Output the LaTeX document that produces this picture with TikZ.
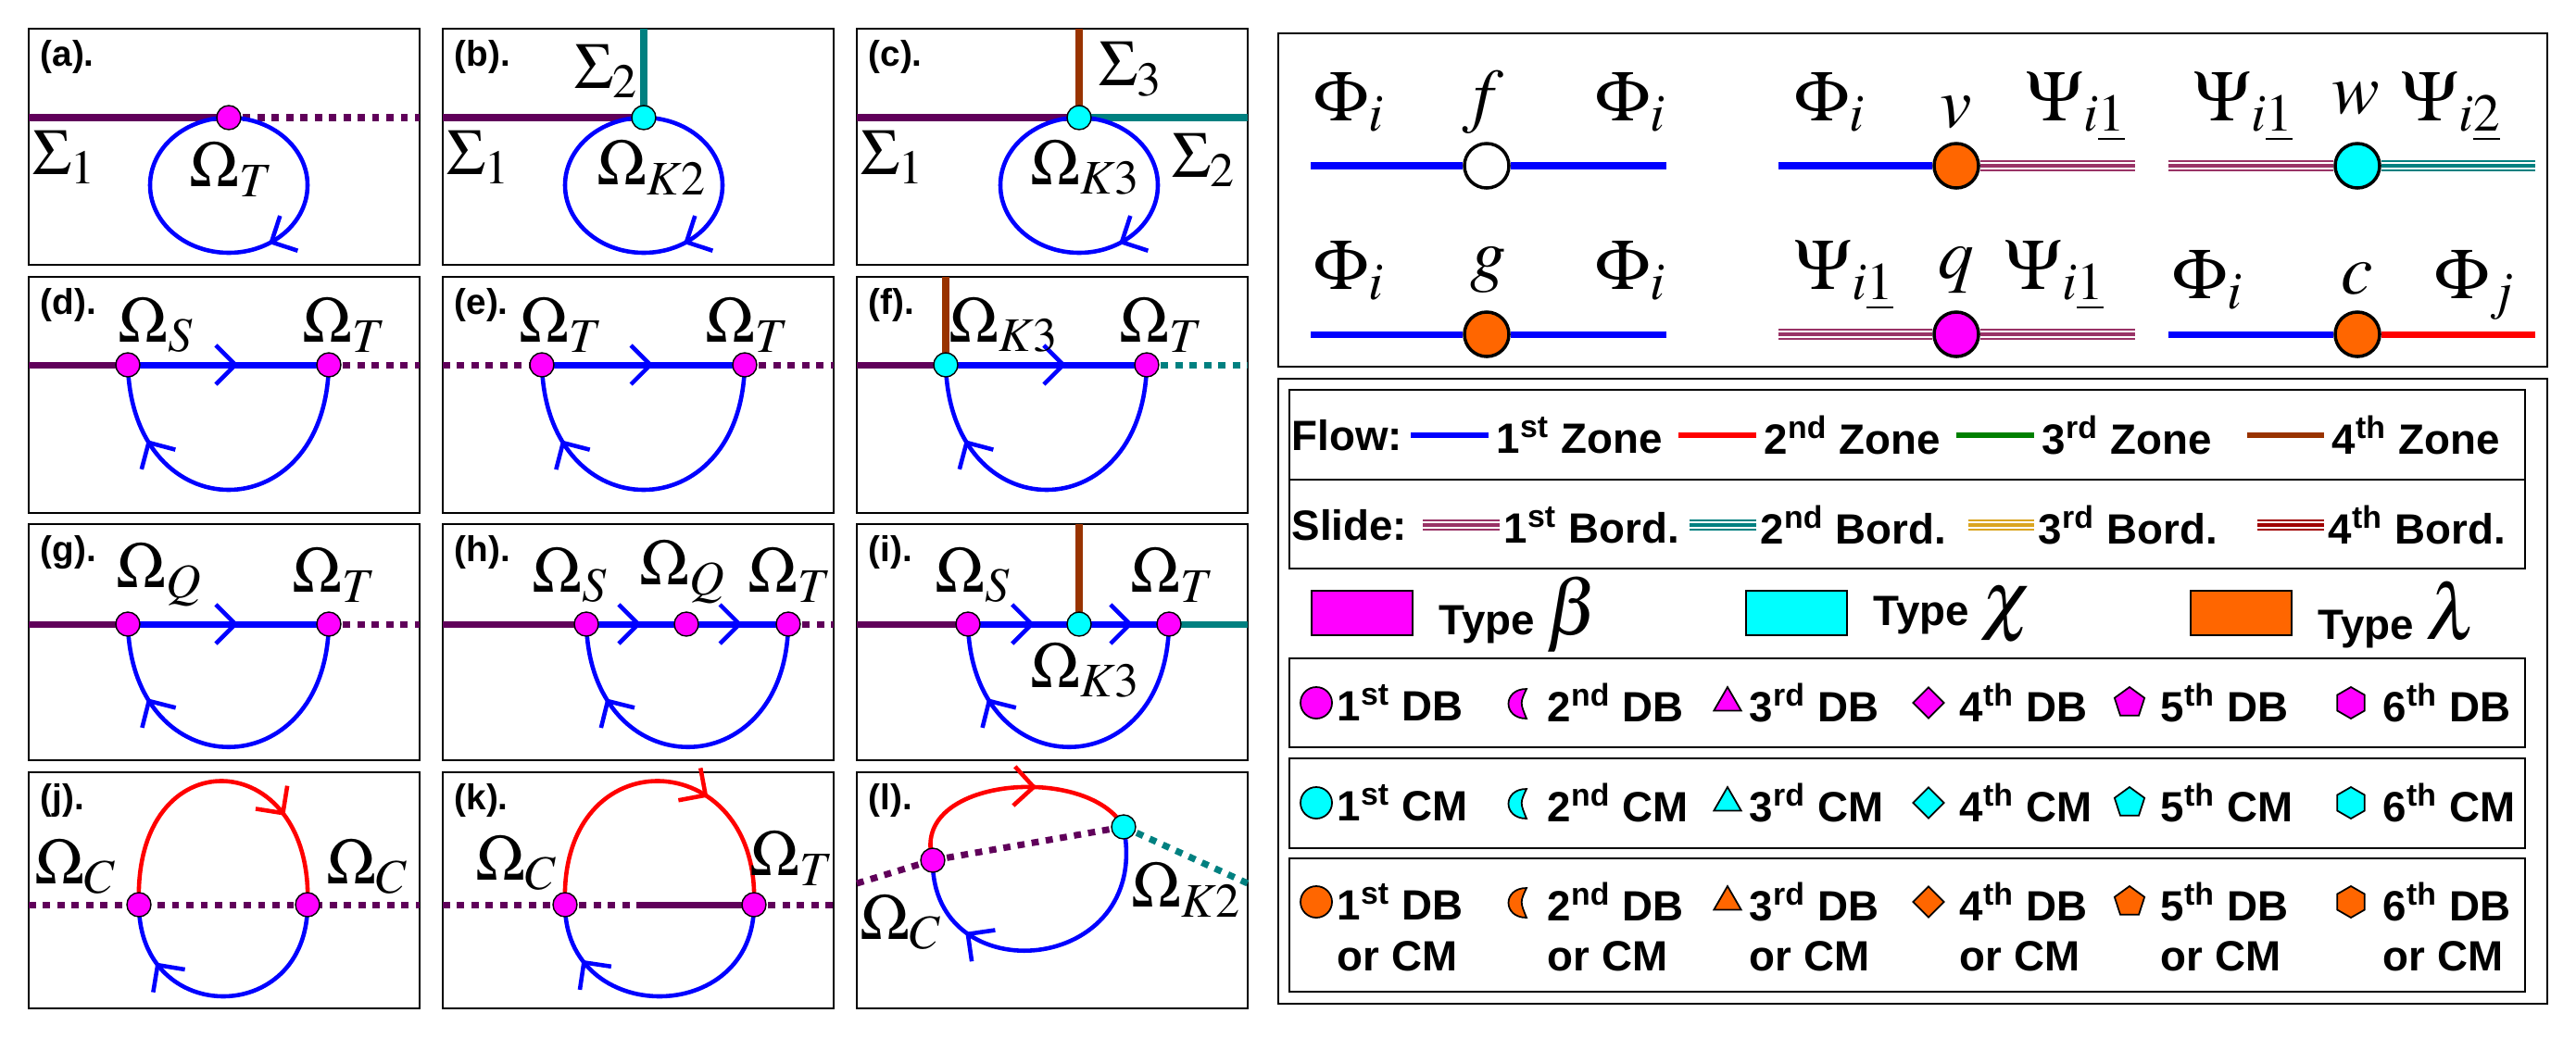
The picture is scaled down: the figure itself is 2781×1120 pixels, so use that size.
\documentclass[tikz,border=0pt]{standalone}
\usepackage{mathptmx}
\usepackage[no-math]{fontspec}
\setmainfont{Liberation Serif}
\setsansfont{Liberation Sans}
\usetikzlibrary{arrows.meta,decorations.markings,shapes.geometric}

\definecolor{bordline}{RGB}{96,0,90}
\definecolor{tealline}{RGB}{0,128,128}
\definecolor{brownline}{RGB}{153,51,0}
\definecolor{zonegreen}{RGB}{0,128,0}
\definecolor{ptorange}{RGB}{255,102,0}
\definecolor{ptmag}{RGB}{255,0,255}
\definecolor{ptcyan}{RGB}{0,255,255}
\definecolor{slideone}{RGB}{153,51,102}
\definecolor{slidethree}{RGB}{218,165,32}
\definecolor{slidefour}{RGB}{160,0,0}

\tikzset{
  pnl/.style={draw, line width=0.6pt},
  tag/.style={font=\sffamily\bfseries\fontsize{11}{11}\selectfont, anchor=north west, inner sep=0pt},
  lbl/.style={font=\fontsize{20}{20}\selectfont, inner sep=0pt},
  big/.style={font=\fontsize{22}{22}\selectfont, inner sep=0pt, anchor=base west},
  bd/.style={bordline, line width=2pt},
  dbd/.style={#1, line width=2pt, dash pattern=on 2.2pt off 2.2pt},
  dbd/.default=bordline,
  mflow/.style={blue, line width=2pt},
  flow/.style={blue, line width=1.3pt},
  pt/.style={circle, draw, line width=0.4pt, inner sep=0pt, minimum size=0.26cm, fill=#1},
  lpt/.style={circle, draw, line width=1pt, inner sep=0pt, minimum size=0.48cm, fill=#1},
  arr/.style={postaction={decorate}, decoration={markings,
      mark=at position #1 with {\arrow{Straight Barb[length=6pt,width=12pt,line width=1.3pt]}}}},
  slide/.style={draw=#1, line width=3.4pt, postaction={draw=white, line width=2.2pt},
      postaction={draw=#1, line width=1pt}},
  txt/.style={font=\sffamily\bfseries\fontsize{13}{13}\selectfont, inner sep=0pt, anchor=west},
  key/.style={line width=1.7pt},
  sym1/.style={circle}, sym3/.style={regular polygon, regular polygon sides=3},
  sym4/.style={diamond, minimum size=0.3cm}, sym5/.style={regular polygon, regular polygon sides=5},
  sym6/.style={regular polygon, regular polygon sides=6, rotate=30}
}

\begin{document}
\begin{tikzpicture}[x=0.01cm, y=-0.01cm]
  \useasboundingbox (0,0) rectangle (2781,1120);

  % Panel frames and tags
  \foreach \t/\px/\py in {a/31/31, b/478/31, c/925/31, d/31/299, e/478/299, f/925/299,
                          g/31/566, h/478/566, i/925/566, j/31/834, k/478/834, l/925/834} {
    \draw[pnl] (\px,\py) rectangle ++(422,255);
    \node[tag] (tag\t) at (\px+12,\py+12) {(\t).};
  }

  % (a)
  \begin{scope}[shift={(31,31)}]
    \coordinate (a1) at (216,96);
    \draw[bd] (0,96) -- (a1);
    \draw[dbd] (a1) -- (422,96);
    \draw[flow, arr=0.16] (301,169) arc[start angle=0, end angle=360, x radius=85, y radius=73];
    \node[pt=ptmag] at (a1) {};
    \node[lbl] (sa1) at (39,139) {$\Sigma_1$};
    \node[lbl] (oa1) at (219,152) {$\Omega_T$};
  \end{scope}

  % (b)
  \begin{scope}[shift={(478,31)}]
    \coordinate (b1) at (217,96);
    \draw[bd] (0,96) -- (b1);
    \draw[tealline, line width=2pt] (217,0) -- (b1);
    \draw[flow, arr=0.16] (302,169) arc[start angle=0, end angle=360, x radius=85, y radius=73];
    \node[pt=ptcyan] at (b1) {};
    \node[lbl] (sb1) at (39,139) {$\Sigma_1$};
    \node[lbl] (sb2) at (177,46) {$\Sigma_2$};
    \node[lbl] (ob1) at (226,150) {$\Omega_{K2}$};
  \end{scope}

  % (c)
  \begin{scope}[shift={(925,31)}]
    \coordinate (c1) at (240,96);
    \draw[bd] (0,96) -- (c1);
    \draw[tealline, line width=2pt] (c1) -- (422,96);
    \draw[brownline, line width=2pt] (240,0) -- (c1);
    \draw[flow, arr=0.16] (325,169) arc[start angle=0, end angle=360, x radius=85, y radius=73];
    \node[pt=ptcyan] at (c1) {};
    \node[lbl] (sc1) at (39,139) {$\Sigma_1$};
    \node[lbl] (sc2) at (375,142) {$\Sigma_2$};
    \node[lbl] (sc3) at (296,44) {$\Sigma_3$};
    \node[lbl] (oc1) at (247,150) {$\Omega_{K3}$};
  \end{scope}

  % (d)
  \begin{scope}[shift={(31,299)}]
    \coordinate (d1) at (107,95); \coordinate (d2) at (324,95);
    \draw[bd] (0,95) -- (d1);
    \draw[dbd] (d2) -- (422,95);
    \draw[mflow, arr=0.55] (d1) -- (d2);
    \draw[flow, arr=0.78] (d2) .. controls (320,275) and (112,275) .. (d1);
    \node[pt=ptmag] at (d1) {}; \node[pt=ptmag] at (d2) {};
    \node[lbl] (od1) at (138,52) {$\Omega_S$};
    \node[lbl] (od2) at (341,52) {$\Omega_T$};
  \end{scope}

  % (e)
  \begin{scope}[shift={(478,299)}]
    \coordinate (e1) at (107,95); \coordinate (e2) at (326,95);
    \draw[dbd] (0,95) -- (e1);
    \draw[dbd] (e2) -- (422,95);
    \draw[mflow, arr=0.55] (e1) -- (e2);
    \draw[flow, arr=0.78] (e2) .. controls (322,275) and (112,275) .. (e1);
    \node[pt=ptmag] at (e1) {}; \node[pt=ptmag] at (e2) {};
    \node[lbl] (oe1) at (128,52) {$\Omega_T$};
    \node[lbl] (oe2) at (329,52) {$\Omega_T$};
  \end{scope}

  % (f)
  \begin{scope}[shift={(925,299)}]
    \coordinate (f1) at (96,95); \coordinate (f2) at (313,95);
    \draw[bd] (0,95) -- (f1);
    \draw[brownline, line width=2pt] (96,0) -- (f1);
    \draw[dbd=tealline] (f2) -- (422,95);
    \draw[mflow, arr=0.6] (f1) -- (f2);
    \draw[flow, arr=0.78] (f2) .. controls (309,275) and (101,275) .. (f1);
    \node[pt=ptcyan] at (f1) {}; \node[pt=ptmag] at (f2) {};
    \node[lbl] (of1) at (159,52) {$\Omega_{K3}$};
    \node[lbl] (of2) at (329,52) {$\Omega_T$};
  \end{scope}

  % (g)
  \begin{scope}[shift={(31,566)}]
    \coordinate (g1) at (107,108); \coordinate (g2) at (324,108);
    \draw[bd] (0,108) -- (g1);
    \draw[dbd] (g2) -- (422,108);
    \draw[mflow, arr=0.55] (g1) -- (g2);
    \draw[flow, arr=0.78] (g2) .. controls (320,285) and (112,285) .. (g1);
    \node[pt=ptmag] at (g1) {}; \node[pt=ptmag] at (g2) {};
    \node[lbl] (og1) at (141,55) {$\Omega_Q$};
    \node[lbl] (og2) at (330,55) {$\Omega_T$};
  \end{scope}

  % (h)
  \begin{scope}[shift={(478,566)}]
    \coordinate (h1) at (155,108); \coordinate (h2) at (263,108); \coordinate (h3) at (373,108);
    \draw[bd] (0,108) -- (h1);
    \draw[dbd] (h3) -- (422,108);
    \draw[mflow, arr=0.55] (h1) -- (h2);
    \draw[mflow, arr=0.55] (h2) -- (h3);
    \draw[flow, arr=0.78] (h3) .. controls (370,285) and (160,285) .. (h1);
    \foreach \n in {h1,h2,h3} \node[pt=ptmag] at (\n) {};
    \node[lbl] (oh1) at (138,55) {$\Omega_S$};
    \node[lbl] (oh2) at (259,52) {$\Omega_Q$};
    \node[lbl] (oh3) at (375,55) {$\Omega_T$};
  \end{scope}

  % (i)
  \begin{scope}[shift={(925,566)}]
    \coordinate (i1) at (120,108); \coordinate (i2) at (240,108); \coordinate (i3) at (337,108);
    \draw[bd] (0,108) -- (i1);
    \draw[tealline, line width=2pt] (i3) -- (422,108);
    \draw[brownline, line width=2pt] (240,0) -- (i2);
    \draw[mflow, arr=0.6] (i1) -- (i2);
    \draw[mflow, arr=0.6] (i2) -- (i3);
    \draw[flow, arr=0.78] (i3) .. controls (334,285) and (125,285) .. (i1);
    \node[pt=ptmag] at (i1) {}; \node[pt=ptcyan] at (i2) {}; \node[pt=ptmag] at (i3) {};
    \node[lbl] (oi1) at (126,55) {$\Omega_S$};
    \node[lbl] (oi2) at (341,55) {$\Omega_T$};
    \node[lbl] (oi3) at (247,158) {$\Omega_{K3}$};
  \end{scope}

  % (j)
  \begin{scope}[shift={(31,834)}]
    \coordinate (j1) at (119,143); \coordinate (j2) at (301,143);
    \draw[dbd] (0,143) -- (422,143);
    \draw[red, line width=1.3pt, arr=0.72] (j1) .. controls (112,-40) and (308,-30) .. (j2);
    \draw[flow, arr=0.78] (j2) .. controls (301,275) and (119,275) .. (j1);
    \node[pt=ptmag] at (j1) {}; \node[pt=ptmag] at (j2) {};
    \node[lbl] (oj1) at (51,102) {$\Omega_C$};
    \node[lbl] (oj2) at (366,102) {$\Omega_C$};
  \end{scope}

  % (k)
  \begin{scope}[shift={(478,834)}]
    \coordinate (k1) at (132,143); \coordinate (k2) at (336,143); \coordinate (kb) at (210,143);
    \draw[dbd] (0,143) -- (k1);
    \draw[dbd] (k1) -- (kb);
    \draw[bd] (kb) -- (k2);
    \draw[dbd] (k2) -- (422,143);
    \draw[red, line width=1.3pt, arr=0.65] (k1) .. controls (125,-40) and (343,-30) .. (k2);
    \draw[flow, arr=0.8] (k2) .. controls (336,275) and (132,275) .. (k1);
    \node[pt=ptmag] at (k1) {}; \node[pt=ptmag] at (k2) {};
    \node[lbl] (ok1) at (80,98) {$\Omega_C$};
    \node[lbl] (ok2) at (377,93) {$\Omega_T$};
  \end{scope}

  % (l)
  \begin{scope}[shift={(925,834)}]
    \coordinate (l1) at (82,95); \coordinate (l2) at (288,59);
    \draw[dbd] (0,120) -- (l1);
    \draw[dbd] (l1) -- (l2);
    \draw[dbd=tealline] (l2) -- (422,120);
    \draw[red, line width=1.3pt, arr=0.6] (l1) .. controls (55,5) and (250,-10) .. (l2);
    \draw[flow, arr=0.75] (l2) .. controls (320,220) and (80,240) .. (l1);
    \node[pt=ptmag] at (l1) {}; \node[pt=ptcyan] at (l2) {};
    \node[lbl] (ol1) at (48,162) {$\Omega_C$};
    \node[lbl] (ol2) at (356,127) {$\Omega_{K2}$};
  \end{scope}

  % Vertex legend
  \draw[pnl] (1380,36) rectangle (2750,396);
  \coordinate (f0) at (1415,179); \coordinate (f3) at (1799,179);
  \coordinate (v0) at (1920,179); \coordinate (v3) at (2305,179);
  \coordinate (w0) at (2341,179); \coordinate (w3) at (2737,179);
  \coordinate (g0) at (1415,361); \coordinate (g3) at (1799,361);
  \coordinate (q0) at (1920,361); \coordinate (q3) at (2305,361);
  \coordinate (c0) at (2341,361); \coordinate (c3) at (2737,361);
  \node[lpt=white] (fv) at (1605,179) {};
  \node[lpt=ptorange] (vv) at (2112,179) {};
  \node[lpt=ptcyan] (wv) at (2545,179) {};
  \node[lpt=ptorange] (gv) at (1605,361) {};
  \node[lpt=ptmag] (qv) at (2112,361) {};
  \node[lpt=ptorange] (cv) at (2545,361) {};
  \draw[mflow] (f0) -- (fv); \draw[mflow] (fv) -- (f3);
  \draw[mflow] (v0) -- (vv); \draw[slide=slideone] (vv) -- (v3);
  \draw[slide=slideone] (w0) -- (wv); \draw[slide=tealline] (wv) -- (w3);
  \draw[mflow] (g0) -- (gv); \draw[mflow] (gv) -- (g3);
  \draw[slide=slideone] (q0) -- (qv); \draw[slide=slideone] (qv) -- (q3);
  \draw[mflow] (c0) -- (cv); \draw[red, line width=2pt] (cv) -- (c3);
  \node[big] (lf1) at (1418,130) {$\Phi_i$};
  \node[big, anchor=base] (lf2) at (1601,128) {$f$};
  \node[big] (lf3) at (1722,130) {$\Phi_i$};
  \node[big] (lv1) at (1937,130) {$\Phi_i$};
  \node[big, anchor=base] (lv2) at (2112,137) {$v$};
  \node[big] (lv3) at (2187,130) {$\Psi_{i\underline{1}}$};
  \node[big] (lw1) at (2368,130) {$\Psi_{i\underline{1}}$};
  \node[big, anchor=base] (lw2) at (2543,122) {$w$};
  \node[big] (lw3) at (2592,130) {$\Psi_{i\underline{2}}$};
  \node[big] (lg1) at (1418,312) {$\Phi_i$};
  \node[big, anchor=base] (lg2) at (1607,300) {$g$};
  \node[big] (lg3) at (1722,312) {$\Phi_i$};
  \node[big] (lq1) at (1937,312) {$\Psi_{i\underline{1}}$};
  \node[big, anchor=base] (lq2) at (2112,300) {$q$};
  \node[big] (lq3) at (2164,312) {$\Psi_{i\underline{1}}$};
  \node[big] (lc1) at (2345,322) {$\Phi_i$};
  \node[big, anchor=base] (lc2) at (2545,317) {$c$};
  \node[big] (lc3) at (2628,322) {$\Phi_j$};

  % Line and point legend
  \draw[pnl] (1380,409) rectangle (2750,1084);
  \draw[pnl] (1392,421) rectangle (2726,518);
  \draw[pnl] (1392,518) rectangle (2726,614);
  \node[txt] (flow) at (1394,470) {Flow:};
  \node[txt] (slid) at (1394,567) {Slide:};
  \foreach \n/\xa/\xb/\col/\sx in {1/1523/1607/blue/st, 2/1812/1896/red/nd,
                                   3/2112/2196/zonegreen/rd, 4/2426/2509/brownline/th} {
    \draw[key, \col] (\xa,470) -- (\xb,470);
    \node[txt] (zone\n) at (\xb+8,470) {\n\textsuperscript{\sx} Zone};
  }
  \foreach \n/\xa/\xb/\col/\sx in {1/1536/1619/slideone/st, 2/1824/1896/tealline/nd,
                                   3/2125/2196/slidethree/rd, 4/2437/2509/slidefour/th} {
    \draw[slide=\col] (\xa,567) -- (\xb,567);
    \node[txt] (bord\n) at (\xb+4,567) {\n\textsuperscript{\sx} Bord.};
  }
  \foreach \n/\xa/\col/\gk in {1/1416/ptmag/\beta, 2/1885/ptcyan/\chi, 3/2365/ptorange/\lambda} {
    \draw[line width=0.8pt, fill=\col] (\xa,638) rectangle ++(109,48);
    \node[txt] (type\n) at (\xa+137,664) {Type \fontsize{24}{24}\selectfont$\gk$};
  }
  \draw[pnl] (1392,711) rectangle (2726,807);
  \draw[pnl] (1392,819) rectangle (2726,916);
  \draw[pnl] (1392,927) rectangle (2726,1071);
  \foreach \r/\y/\col/\w in {db/759/ptmag/DB, cm/867/ptcyan/CM, dc/974/ptorange/DB} {
    \foreach \n/\xs/\xt/\sx in {1/1421/1443/st, 2/1638/1670/nd, 3/1865/1888/rd,
                                4/2082/2115/th, 5/2299/2332/th, 6/2538/2572/th} {
      \ifnum\n=2
        \draw[line width=0.5pt, fill=\col] (\xs+10,\y-15) .. controls (\xs-16,\y-15) and (\xs-16,\y+17) .. (\xs+10,\y+17) .. controls (\xs+3,\y) .. cycle;
      \else
        \node[sym\n, draw, line width=0.5pt, fill=\col, inner sep=0pt, minimum size=0.34cm] (\r s\n) at (\xs,\y) {};
      \fi
      \node[txt] (\r t\n) at (\xt,\y) {\n\textsuperscript{\sx} \w};
    }
  }
  \foreach \n/\xt in {1/1443, 2/1670, 3/1888, 4/2115, 5/2332, 6/2572}
    \node[txt] (ort\n) at (\xt,1033) {or CM};
\end{tikzpicture}
\end{document}
